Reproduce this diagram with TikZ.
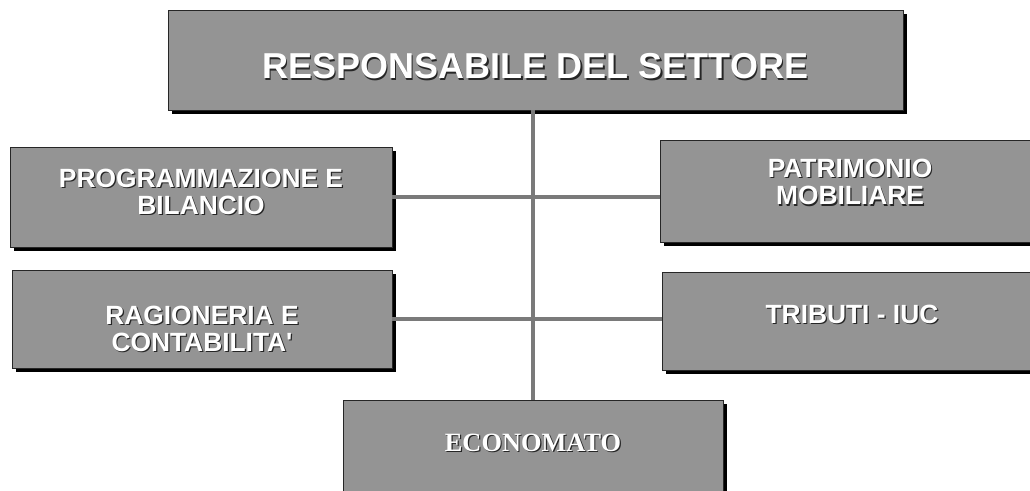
\documentclass[tikz,border=0pt]{standalone}
\usepackage{fontspec}
\setmainfont{Liberation Serif}
\setsansfont{Liberation Sans}
\usepackage{tikz}
\usepackage{xcolor}
\usetikzlibrary{
    shapes,
    shadows
}
\definecolor{boxgray}{rgb}{0.58, 0.58, 0.58}
\definecolor{linegray}{rgb}{0.48, 0.48, 0.48}
\newcommand{\emb}[1]{\makebox[0pt][l]{\kern0.7pt\raisebox{-0.7pt}{\color{black!85}#1}}{\color{white}#1}}
\newcommand{\liftby}[2]{\raisebox{#1}[\height][\depth]{#2}}
\tikzset{
    unitbox/.style={draw=black!85, line width=0.5pt, rectangle, fill=boxgray, inner sep=0cm,
        drop shadow={shadow xshift=0.08cm, shadow yshift=-0.08cm, fill=black, opacity=1}},
    unittext/.style={font=\sffamily\bfseries\fontsize{15}{15.5}\selectfont},
    link/.style={draw=linegray, line width=0.08cm}
}

\begin{document}
\begin{tikzpicture}
            \useasboundingbox (0, 0) rectangle (20.6, 9.82);

            \node[unitbox, font=\sffamily\bfseries\fontsize{20.5}{22}\selectfont, minimum width=14.7cm, minimum height=2.0cm] (head) at (10.71, 8.62) {\liftby{-4pt}{\emb{RESPONSABILE DEL SETTORE}}};

            \node[unitbox, unittext, minimum width=7.64cm, minimum height=2.0cm] (left1) at (4.02, 5.88) {\liftby{1pt}{\begin{tabular}{@{}c@{}}\emb{PROGRAMMAZIONE E}\\\emb{BILANCIO}\end{tabular}}};
            \node[unitbox, unittext, minimum width=7.6cm, minimum height=1.96cm] (left2) at (4.04, 3.44) {\liftby{-7.6pt}{\begin{tabular}{@{}c@{}}\emb{RAGIONERIA E}\\\emb{CONTABILITA\textquotesingle}\end{tabular}}};

            \node[unitbox, unittext, minimum width=7.6cm, minimum height=2.04cm] (right1) at (17.0, 6.0) {\liftby{2.9pt}{\begin{tabular}{@{}c@{}}\emb{PATRIMONIO}\\\emb{MOBILIARE}\end{tabular}}};
            \node[unitbox, unittext, minimum width=7.6cm, minimum height=1.96cm] (right2) at (17.04, 3.40) {\liftby{3.5pt}{\emb{TRIBUTI - IUC}}};

            \node[unitbox, font=\rmfamily\bfseries\fontsize{15}{17}\selectfont, minimum width=7.6cm, minimum height=2.0cm] (foot) at (10.66, 0.82) {\liftby{3.7pt}{\emb{ECONOMATO}}};

            \draw[link] (foot.north |- head.south)--(foot.north);
            \draw[link] (left1.east)--(left1.east -| right1.west);
            \draw[link] (left2.east)--(left2.east -| right2.west);
        \end{tikzpicture}
\end{document}
